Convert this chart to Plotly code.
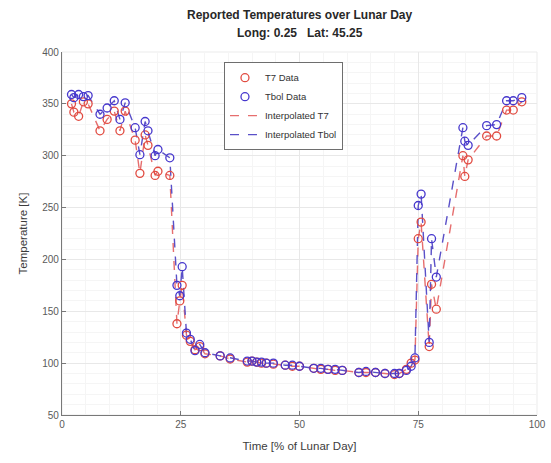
import plotly.graph_objects as go

# Time [% of lunar day]
time_pct = [2.0, 2.5, 3.5, 4.5, 5.5, 8.0, 9.5, 11.0, 12.2, 13.3, 15.4, 16.4, 17.5, 18.1,
            19.6, 20.2, 22.7, 24.2, 24.8, 25.3, 26.2, 27.0, 28.0, 29.0, 30.1, 33.3, 35.4,
            39.0, 40.0, 41.0, 42.0, 43.0, 44.5, 47.0, 48.5, 50.0, 53.0, 54.5, 56.0, 57.5,
            59.0, 62.5, 64.0, 66.0, 68.0, 70.0, 71.0, 72.5, 73.5, 74.3, 75.0, 75.6, 77.3,
            77.8, 78.8, 84.4, 84.8, 85.5, 89.4, 91.5, 93.6, 95.0, 96.8]

t7 = [350, 342, 338, 352, 350, 324, 335, 343, 324, 343, 315, 283, 320, 310,
      281, 285, 281, 138, 160, 175, 127, 121, 113, 116, 109, 107, 104,
      101, 102, 101, 100, 100, 99, 98, 97, 97, 95, 94, 94, 93,
      93, 91, 91, 91, 90, 89, 90, 94, 100, 103, 220, 236, 116,
      176, 152, 300, 280, 296, 319, 319, 344, 344, 352]

tbol = [359, 356, 359, 357, 358, 340, 346, 353, 335, 351, 327, 301, 333, 324,
        300, 306, 298, 175, 165, 193, 129, 123, 112, 118, 110, 107, 105,
        102, 102, 101, 101, 100, 100, 98, 98, 97, 95, 95, 94, 94,
        93, 91, 92, 91, 90, 90, 90, 93, 97, 105, 252, 263, 120,
        220, 183, 327, 314, 310, 329, 330, 353, 353, 356]

x_ticks = [0, 25, 50, 75, 100]
y_ticks = [50, 100, 150, 200, 250, 300, 350, 400]

title_lines = ["Reported Temperatures over Lunar Day", "Long: 0.25   Lat: 45.25"]

RED = "rgb(225,75,65)"
BLUE = "rgb(70,55,205)"
RED_L = "rgb(230,110,110)"
BLUE_L = "rgb(90,80,200)"

fig = go.Figure()
fig.add_trace(go.Scatter(x=time_pct, y=t7, mode="lines", name="Interpolated T7",
                         line=dict(color=RED_L, width=1.4, dash="dash"),
                         showlegend=False))
fig.add_trace(go.Scatter(x=time_pct, y=tbol, mode="lines", name="Interpolated Tbol",
                         line=dict(color=BLUE_L, width=1.4, dash="dash"),
                         showlegend=False))
fig.add_trace(go.Scatter(x=time_pct, y=t7, mode="markers", name="T7 Data",
                         marker=dict(symbol="circle-open", size=8, color=RED,
                                     line=dict(width=1.3, color=RED)), legendrank=1))
fig.add_trace(go.Scatter(x=time_pct, y=tbol, mode="markers", name="Tbol Data",
                         marker=dict(symbol="circle-open", size=8, color=BLUE,
                                     line=dict(width=1.3, color=BLUE)), legendrank=2))
fig.add_trace(go.Scatter(x=[None], y=[None], mode="lines", name="Interpolated T7",
                         line=dict(color=RED_L, width=1.4, dash="dash"), legendrank=3))
fig.add_trace(go.Scatter(x=[None], y=[None], mode="lines", name="Interpolated Tbol",
                         line=dict(color=BLUE_L, width=1.4, dash="dash"), legendrank=4))

axis_common = dict(
    showline=True, linecolor="rgb(120,120,120)", linewidth=1.2, mirror=False,
    ticks="inside", ticklen=4, tickcolor="rgb(120,120,120)",
    showgrid=True, gridcolor="rgb(232,232,232)", gridwidth=1,
    zeroline=False,
    tickfont=dict(family="Liberation Sans, Arial", size=10, color="rgb(90,90,90)"),
)

fig.update_layout(
    width=551, height=463,
    margin=dict(l=62, r=14, t=52, b=48, autoexpand=False),
    paper_bgcolor="white", plot_bgcolor="white",
    font=dict(family="Liberation Sans, Arial", color="rgb(60,60,60)"),
    legend=dict(x=0.341, y=0.972, xanchor="left", yanchor="top",
                bgcolor="white", bordercolor="rgb(110,110,110)", borderwidth=1,
                font=dict(size=9.5, color="rgb(50,50,50)"), tracegroupgap=0,
                itemwidth=30),
    showlegend=True,
)
for txt, ypx in zip(title_lines, [15, 33]):
    fig.add_annotation(text="<b>" + txt + "</b>", xref="paper", yref="paper",
                       x=0.5, y=1 + (52 - ypx) / 363, xanchor="center", yanchor="middle",
                       showarrow=False, font=dict(size=12, color="rgb(40,40,40)"))

fig.update_xaxes(range=[0, 100], tickvals=x_ticks,
                 title=dict(text="Time [% of Lunar Day]", standoff=12,
                            font=dict(size=11.5, color="rgb(60,60,60)")),
                 minor=dict(dtick=5, showgrid=True, gridcolor="rgb(245,245,245)"),
                 **axis_common)
fig.update_yaxes(range=[50, 400], tickvals=y_ticks,
                 title=dict(text="Temperature [K]", standoff=12,
                            font=dict(size=11.5, color="rgb(60,60,60)")),
                 minor=dict(dtick=10, showgrid=True, gridcolor="rgb(245,245,245)"),
                 **axis_common)
fig.add_shape(type="rect", xref="paper", yref="paper", x0=0, y0=0, x1=1, y1=1,
              line=dict(color="rgb(235,235,235)", width=1), layer="below")

fig.write_html("out.html")
